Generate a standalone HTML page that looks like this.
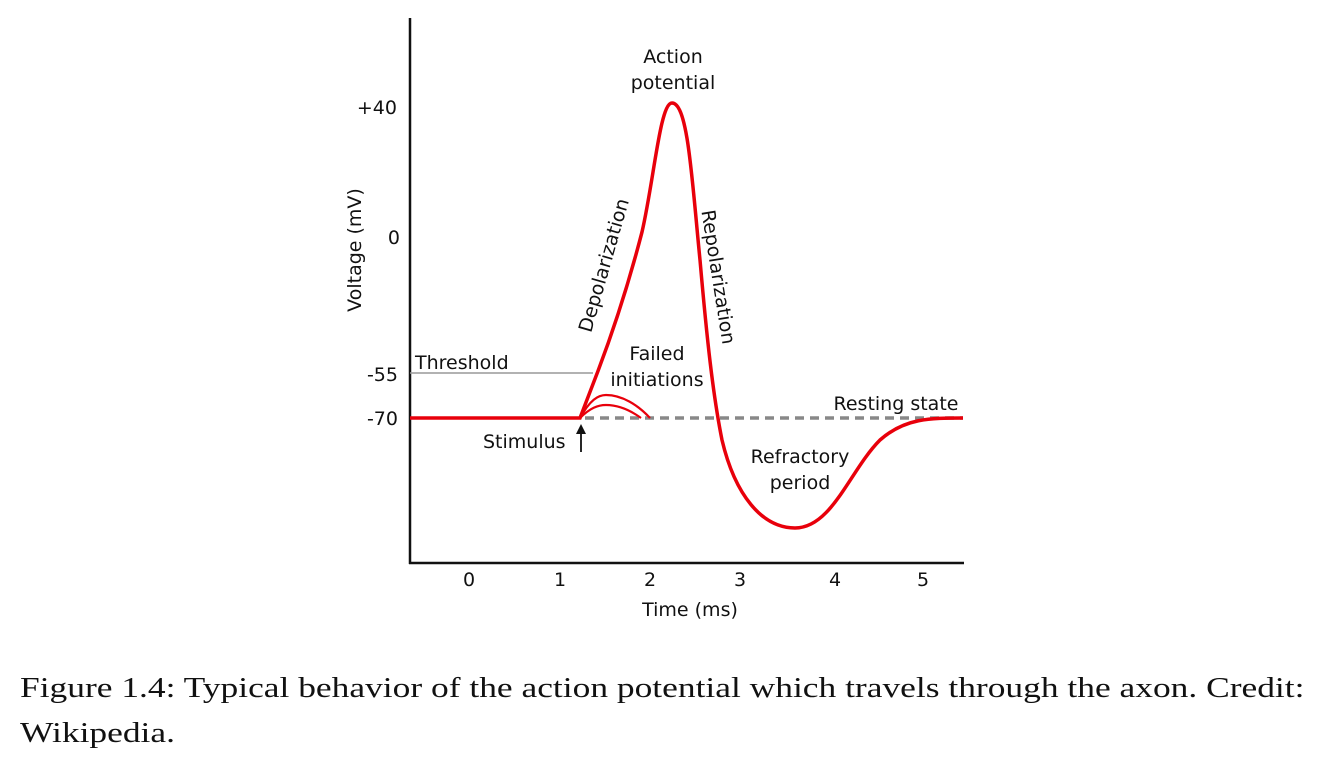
<!DOCTYPE html>
<html><head><style>
body{margin:0;background:#fff;width:1328px;height:764px;overflow:hidden}
svg{position:absolute;left:0;top:0}
.cap{position:absolute;left:20px;font-family:"Liberation Serif",serif;font-size:28px;color:#111;white-space:nowrap;transform-origin:left top;transform:scaleX(1.265)}
</style></head><body>
<svg width="1328" height="764" font-family="DejaVu Sans, Liberation Sans, sans-serif" font-size="19" fill="#111">
<line x1="410" y1="18" x2="410" y2="564" stroke="#111" stroke-width="2.5"/>
<line x1="409" y1="563" x2="964" y2="563" stroke="#111" stroke-width="2.5"/>
<g text-anchor="middle">
<text x="469" y="586">0</text><text x="560" y="586">1</text><text x="650" y="586">2</text>
<text x="740" y="586">3</text><text x="835" y="586">4</text><text x="923" y="586">5</text>
<text x="690" y="616">Time (ms)</text>
</g>
<g text-anchor="end">
<text x="397" y="114">+40</text><text x="400" y="244">0</text>
<text x="398" y="381">-55</text><text x="398" y="425">-70</text>
</g>
<text transform="translate(361,250) rotate(-90)" text-anchor="middle">Voltage (mV)</text>
<line x1="410" y1="373" x2="593" y2="373" stroke="#999" stroke-width="1.5"/>
<text x="415" y="369">Threshold</text>
<line x1="585" y1="418" x2="963" y2="418" stroke="#888" stroke-width="3.5" stroke-dasharray="9,6"/>
<g fill="none" stroke="#e8000b" stroke-width="3.5">
<path d="M410,418 L580,418 L598,371 C612,334 627,290 642,232 C654,180 660,103 672,103 C688,103 692,180 700,260 C707,340 713,395 722,440 C735,495 762,528 795,528 C832,528 850,470 880,440 C905,418 930,418 963,418"/>
</g>
<g fill="none" stroke="#e8000b" stroke-width="2.2">
<path d="M580,418 C590,400 598,395 606,395 C622,395 638,405 650,418"/>
<path d="M580,418 C590,408 598,405 606,405 C618,405 630,410 641,418"/>
</g>
<line x1="581" y1="452" x2="581" y2="428" stroke="#111" stroke-width="1.8"/>
<path d="M576,434 L581,424 L586,434 Z" fill="#111"/>
<text x="483" y="448">Stimulus</text>
<g text-anchor="middle">
<text x="673" y="63">Action</text><text x="673" y="89">potential</text>
<text x="657" y="360">Failed</text><text x="657" y="386">initiations</text>
<text x="896" y="410">Resting state</text>
<text x="800" y="463">Refractory</text><text x="800" y="489">period</text>
</g>
<text transform="translate(610,267) rotate(-74)" text-anchor="middle">Depolarization</text>
<text transform="translate(712,278) rotate(81)" text-anchor="middle">Repolarization</text>
</svg>
<div class="cap" style="top:673px">Figure 1.4: Typical behavior of the action potential which travels through the axon. Credit:</div>
<div class="cap" style="top:718px">Wikipedia.</div>
</body></html>
